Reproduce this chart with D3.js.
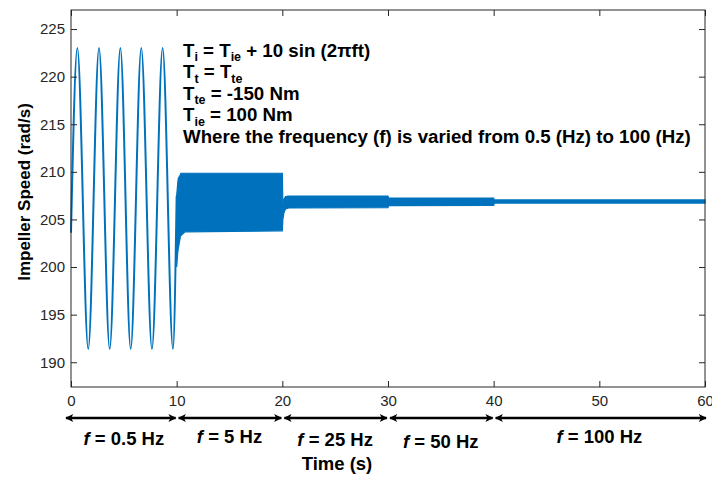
<!DOCTYPE html>
<html>
<head>
<meta charset="utf-8">
<script src="https://cdn.jsdelivr.net/npm/d3@7"></script>
<style>
  body { margin: 0; background: #fff; }
  svg { display: block; font-family: Arial, "Liberation Sans", sans-serif; }
</style>
</head>
<body>
<div id="chart"></div>
<script>
// 0.5 Hz part: start, peaks and troughs
const sineTime = [0, 0.6, 1.63, 2.65, 3.66, 4.67, 5.65, 6.65, 7.66, 8.67, 9.65, 10.0];
const sineSpeed = [203.6, 223.0, 191.4, 223.0, 191.4, 223.0, 191.4, 223.0, 191.4, 223.0, 191.4, 207.5];

// envelope of the dense oscillation for 5, 25, 50 and 100 Hz
const envTime = [10.0, 10.1, 10.15, 10.35, 10.4, 10.8, 20.0, 20.05, 20.15, 20.3, 20.6, 30.0, 30.05, 40.0, 40.05, 60];
const envUpper = [207.5, 208.8, 209.3, 209.7, 209.85, 209.85, 209.85, 206.5, 207.1, 207.4, 207.45, 207.45, 207.25, 207.25, 207.05, 207.05];
const envLower = [200.0, 201.5, 201.9, 203.2, 203.3, 203.7, 203.8, 205.0, 205.7, 206.1, 206.2, 206.25, 206.45, 206.47, 206.72, 206.72];

const xTicks = [0, 10, 20, 30, 40, 50, 60];
const yTicks = [190, 195, 200, 205, 210, 215, 220, 225];

// frequency ranges under the axis
const bands = [
    {from: 0, to: 10, label: "0.5 Hz"},
    {from: 10, to: 20, label: "5 Hz"},
    {from: 20, to: 30, label: "25 Hz"},
    {from: 30, to: 40, label: "50 Hz"},
    {from: 40, to: 60, label: "100 Hz"}
];

const noteLines = [
    [["T"], ["i", 1], [" = T"], ["ie", 1], [" + 10 sin (2\u03c0ft)"]],
    [["T"], ["t", 1], [" = T"], ["te", 1]],
    [["T"], ["te", 1], [" = -150 Nm"]],
    [["T"], ["ie", 1], [" = 100 Nm"]],
    [["Where the frequency (f) is varied from 0.5 (Hz) to 100 (Hz)"]]
];

const width = 712, height = 477;
const m = {left: 71, right: 705, top: 10, bottom: 387};
const blue = "#0072BD";
const axisColor = "#262626";

const svg = d3.select("#chart").append("svg")
    .attr("width", width)
    .attr("height", height);

const x = d3.scaleLinear().domain([0, 60]).range([m.left, m.right]);
const y = d3.scaleLinear().domain([187.4, 227]).range([m.bottom, m.top]);

// envelope as filled area
const envData = envTime.map((t, i) => ({t: t, hi: envUpper[i], lo: envLower[i]}));
svg.append("path")
    .datum(envData)
    .attr("fill", blue)
    .attr("stroke", blue)
    .attr("stroke-width", 1.2)
    .attr("d", d3.area()
        .x(d => x(d.t))
        .y0(d => y(d.lo))
        .y1(d => y(d.hi)));

const sineData = sineTime.map((t, i) => ({t: t, v: sineSpeed[i]}));
svg.append("path")
    .datum(sineData)
    .attr("fill", "none")
    .attr("stroke", blue)
    .attr("stroke-width", 2)
    .attr("d", d3.line()
        .x(d => x(d.t))
        .y(d => y(d.v))
        .curve(d3.curveMonotoneX));

// axes, ticks inside like matlab
svg.append("g")
    .attr("transform", `translate(0,${m.bottom})`)
    .call(d3.axisBottom(x).tickValues(xTicks).tickSize(-6).tickPadding(8));
svg.append("g")
    .attr("transform", `translate(${m.left},0)`)
    .call(d3.axisLeft(y).tickValues(yTicks).tickSize(-6).tickPadding(6));
svg.append("g")
    .attr("transform", `translate(0,${m.top})`)
    .call(d3.axisTop(x).tickValues(xTicks).tickSize(-6).tickFormat(""));
svg.append("g")
    .attr("transform", `translate(${m.right},0)`)
    .call(d3.axisRight(y).tickValues(yTicks).tickSize(-6).tickFormat(""));

svg.selectAll(".domain").remove();
svg.selectAll(".tick line").attr("stroke", axisColor);
svg.selectAll(".tick text")
    .attr("fill", axisColor)
    .style("font-size", "15px");

svg.append("rect")
    .attr("x", m.left)
    .attr("y", m.top)
    .attr("width", m.right - m.left)
    .attr("height", m.bottom - m.top)
    .attr("fill", "none")
    .attr("stroke", axisColor)
    .attr("stroke-width", 1);

// y label
svg.append("text")
    .attr("transform", "translate(30,192) rotate(-90)")
    .attr("text-anchor", "middle")
    .style("font-size", "17px")
    .style("font-weight", "bold")
    .text("Impeller Speed (rad/s)");

// annotation text
const notes = svg.append("g");
noteLines.forEach((line, i) => {
    const txt = notes.append("text")
        .attr("x", 183)
        .attr("y", 56.5 + i * 21.5)
        .style("font-size", "18.7px")
        .style("font-weight", "bold");
    let shifted = false;
    line.forEach(seg => {
        const ts = txt.append("tspan").text(seg[0]);
        if (seg[1]) {
            ts.attr("dy", shifted ? 0 : 4.5).style("font-size", "12.5px");
            shifted = true;
        } else if (shifted) {
            ts.attr("dy", -4.5);
            shifted = false;
        }
    });
});

// arrows under the axis
const defs = svg.append("defs");
defs.append("marker")
    .attr("id", "head")
    .attr("viewBox", "0 0 10 10")
    .attr("refX", 9)
    .attr("refY", 5)
    .attr("markerWidth", 10)
    .attr("markerHeight", 8)
    .attr("markerUnits", "userSpaceOnUse")
    .attr("orient", "auto-start-reverse")
    .append("path")
    .attr("d", "M0,0 L10,5 L0,10 L2.5,5 Z")
    .attr("fill", "#000");

const arrowY = 418;
svg.append("g").selectAll("line")
    .data(bands)
    .join("line")
    .attr("x1", d => x(d.from) - (d.from === 0 ? 5 : -2))
    .attr("x2", d => x(d.to) - 1 + (d.to === 60 ? 2 : 0))
    .attr("y1", arrowY)
    .attr("y2", arrowY)
    .attr("stroke", "#000")
    .attr("stroke-width", 2.5)
    .attr("marker-start", "url(#head)")
    .attr("marker-end", "url(#head)");

const bandLabels = svg.append("g").selectAll("text")
    .data(bands)
    .join("text")
    .attr("x", d => (x(d.from) + x(d.to)) / 2)
    .attr("y", (d, i) => [445, 443, 446, 448, 443][i])
    .attr("text-anchor", "middle")
    .style("font-size", "18.5px")
    .style("font-weight", "bold");
bandLabels.append("tspan").style("font-style", "italic").text("f");
bandLabels.append("tspan").text(d => " = " + d.label);

svg.append("text")
    .attr("x", 337)
    .attr("y", 470)
    .attr("text-anchor", "middle")
    .style("font-size", "18.5px")
    .style("font-weight", "bold")
    .text("Time (s)");
</script>
</body>
</html>
